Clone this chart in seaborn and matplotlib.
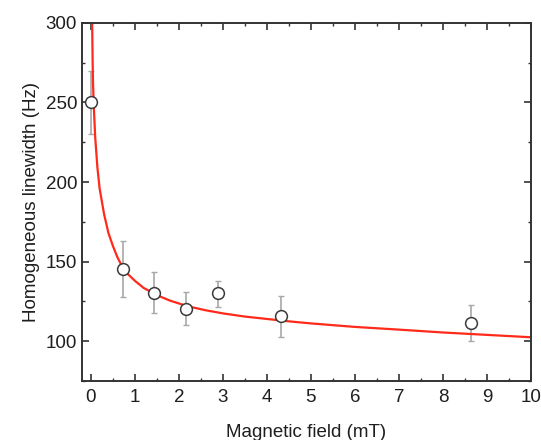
import numpy as np
import pandas as pd
import matplotlib
matplotlib.use("Agg")
import matplotlib.pyplot as plt
import seaborn as sns
from matplotlib.ticker import MultipleLocator

# measured points
field = [0.0, 0.72, 1.44, 2.16, 2.88, 4.32, 8.64]
linewidth = [250, 145.5, 130.5, 120.3, 130.0, 115.9, 111.6]
err_low = [230, 128, 118, 110.5, 121.5, 102.6, 100.4]
err_high = [270, 163, 143.5, 130.7, 138, 128.6, 122.9]

# fitted curve
fit_x = [0.025, 0.03, 0.04, 0.05, 0.07, 0.1, 0.15, 0.2, 0.3, 0.4, 0.5, 0.6, 0.72,
         0.85, 1.0, 1.2, 1.5, 1.8, 2.2, 2.6, 3.0, 3.5, 4.0, 4.5, 5, 6, 7, 8, 9, 10]
fit_y = [315, 300, 278, 262, 246, 228, 209, 196, 180, 168, 160, 153, 146.5,
         142, 138, 133.5, 129, 125.5, 122, 119.5, 117.5, 115.5, 114, 112.5,
         111.2, 109, 107.3, 105.5, 104, 102.5]

pts = pd.DataFrame({"field": field, "lw": linewidth})
fit = pd.DataFrame({"field": fit_x, "lw": fit_y})

sns.set_style("ticks")
plt.rcParams["font.family"] = ["Liberation Sans", "DejaVu Sans"]

fig = plt.figure(figsize=(5.41, 4.40), dpi=100)
ax = fig.add_axes([0.1516, 0.134, 0.8299, 0.814])

yerr = [np.array(linewidth) - np.array(err_low), np.array(err_high) - np.array(linewidth)]
ax.errorbar(field, linewidth, yerr=yerr, fmt="none", ecolor="#a8a8a8",
            elinewidth=1.2, capsize=2.5, capthick=1.0, zorder=1)
sns.lineplot(data=fit, x="field", y="lw", color="#ff2a1a", linewidth=1.6,
             sort=False, estimator=None, ax=ax, zorder=2)
sns.scatterplot(data=pts, x="field", y="lw", marker="o", s=72, facecolor="white",
                edgecolor="#3a3a3a", linewidth=1.1, ax=ax, zorder=3)

ax.set_xlim(-0.2, 10)
ax.set_ylim(75, 300)
ax.xaxis.set_major_locator(MultipleLocator(1))
ax.xaxis.set_minor_locator(MultipleLocator(0.5))
ax.yaxis.set_major_locator(MultipleLocator(50))
ax.yaxis.set_minor_locator(MultipleLocator(25))
ax.set_yticks([100, 150, 200, 250, 300])

for s in ax.spines.values():
    s.set_color("#333333")
    s.set_linewidth(1.4)
ax.tick_params(which="both", direction="in", top=True, right=True, color="#333333")
ax.tick_params(which="major", length=5, width=1.2, labelsize=13.5,
               labelcolor="#1e1e1e")
ax.tick_params(axis="x", which="major", pad=6)
ax.tick_params(axis="y", which="major", pad=3.5)
ax.tick_params(which="minor", length=2.5, width=1.0)

ax.set_xlabel("Magnetic field (mT)", fontsize=13.5, color="#1e1e1e", labelpad=13)
ax.set_ylabel("Homogeneous linewidth (Hz)", fontsize=13.5, color="#1e1e1e", labelpad=4)

fig.savefig("out.png", dpi=100)
